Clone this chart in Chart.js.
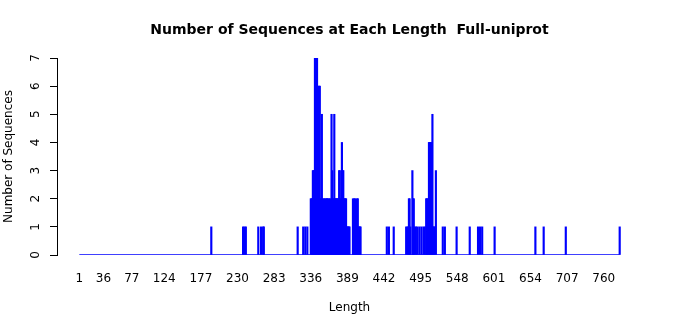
<!DOCTYPE html>
<html>
<head>
<meta charset="utf-8">
<script src="https://cdn.jsdelivr.net/npm/chart.js@4.4.1/dist/chart.umd.min.js"></script>
<style>
  html, body { margin: 0; padding: 0; background: #fff; }
</style>
</head>
<body>
<canvas id="chartLongueurs" width="700" height="315"></canvas>
<script>
// Longueurs présentes (les autres valent 0) et nombre de séquences
const lengths = [
    192, 238, 240, 242, 260, 264, 267, 268, 317,
    325, 328, 331, 336, 337, 338, 339, 340, 341, 342, 343, 344, 345, 346,
    347, 348, 349, 350, 351, 352, 353, 354, 355, 356, 357, 358, 359, 360,
    361, 362, 363, 364, 365, 366, 367, 368, 369, 370, 371, 372, 373, 374,
    375, 376, 377, 378, 379, 380, 381, 382, 383, 384, 385, 386, 387, 388,
    389, 390, 391, 392, 397, 398, 399, 400, 401, 402, 403, 404, 405, 406,
    407, 408,
    446, 449, 456, 474, 476, 477, 478, 479, 480, 483, 484, 485, 486, 488,
    490, 493, 496, 499, 501, 503, 504, 505, 507, 508, 509, 510, 511, 512,
    513, 514, 515, 517,
    527, 530, 547, 566, 578, 581, 584, 602, 661, 673, 705, 783
];
const counts = [
    1, 1, 1, 1, 1, 1, 1, 1, 1,
    1, 1, 1, 2, 2, 2, 3, 3, 3, 7, 7, 7, 7, 4,
    6, 6, 6, 2, 2, 5, 2, 1, 2, 2, 1, 2, 2, 2,
    2, 1, 2, 2, 1, 5, 3, 2, 2, 5, 2, 2, 2, 2,
    2, 2, 3, 3, 2, 2, 4, 3, 3, 2, 2, 2, 2, 1,
    1, 1, 1, 1, 2, 1, 2, 2, 1, 1, 2, 2, 1, 1,
    1, 1,
    1, 1, 1, 1, 1, 1, 2, 2, 1, 3, 2, 2, 1, 1,
    1, 1, 1, 1, 1, 2, 2, 2, 4, 4, 4, 4, 3, 5,
    1, 1, 1, 3,
    1, 1, 1, 1, 1, 1, 1, 1, 1, 1, 1, 1
];
const lengthRange = [1, 783];
const tickLabels = [1, 36, 77, 124, 177, 230, 283, 336, 389, 442, 495, 548, 601, 654, 707, 760];
const yTicks = [0, 1, 2, 3, 4, 5, 6, 7];

const bleu = '#0000ff';
const police = "'DejaVu Sans', sans-serif";

// marge de 4 % de chaque côté comme dans le graphique d'origine
const etendue = lengthRange[1] - lengthRange[0];
const xMin = lengthRange[0] - 0.04 * etendue - 1;
const xMax = lengthRange[1] + 0.04 * etendue + 1;

const ctx = document.getElementById('chartLongueurs');
new Chart(ctx.getContext('2d'), {
    data: {
        datasets: [{
            type: 'bar',
            label: 'Nombre de séquences',
            data: lengths.map((l, i) => ({ x: l, y: counts[i] })),
            backgroundColor: bleu,
            borderWidth: 0,
            barThickness: 1.5
        }, {
            type: 'line',
            label: 'base',
            data: lengthRange.map(l => ({ x: l, y: 0 })),
            borderColor: bleu,
            borderWidth: 1.4,
            pointRadius: 0
        }]
    },
    options: {
        responsive: false,
        animation: false,
        layout: { padding: { left: 0, right: 58, top: 0, bottom: 0 } },
        plugins: {
            legend: { display: false },
            tooltip: { enabled: false },
            title: {
                display: true,
                fullSize: false,
                text: 'Number of Sequences at Each Length  Full-uniprot',
                color: '#000',
                font: { family: police, size: 14, weight: 'bold' },
                padding: { top: 21.5, bottom: 19.7 }
            }
        },
        scales: {
            x: {
                type: 'linear',
                offset: false,
                min: xMin,
                max: xMax,
                grid: { display: false, drawTicks: false, offset: false },
                border: { display: false },
                afterBuildTicks: (scale) => {
                    scale.ticks = tickLabels.map(v => ({ value: v }));
                },
                afterFit: (scale) => { scale.height = 60; },
                ticks: {
                    autoSkip: false,
                    maxRotation: 0,
                    padding: 17,
                    color: '#000',
                    font: { family: police, size: 12 },
                    callback: (v) => String(v)
                },
                title: {
                    display: true,
                    text: 'Length',
                    color: '#000',
                    font: { family: police, size: 12 },
                    padding: { top: 0, bottom: 0 }
                }
            },
            y: {
                min: 0,
                max: 7,
                afterBuildTicks: (scale) => {
                    scale.ticks = yTicks.map(v => ({ value: v }));
                },
                afterFit: (scale) => { scale.width = 57; },
                grid: {
                    drawOnChartArea: false,
                    drawTicks: true,
                    tickLength: 7,
                    tickColor: '#000'
                },
                border: { display: true, color: '#000', width: 1 },
                ticks: {
                    minRotation: 90,
                    maxRotation: 90,
                    crossAlign: 'center',
                    padding: 10,
                    color: '#000',
                    font: { family: police, size: 12 }
                },
                title: {
                    display: true,
                    text: 'Number of Sequences',
                    color: '#000',
                    font: { family: police, size: 12 },
                    padding: { top: 2, bottom: 0 }
                }
            }
        }
    }
});
</script>
</body>
</html>
